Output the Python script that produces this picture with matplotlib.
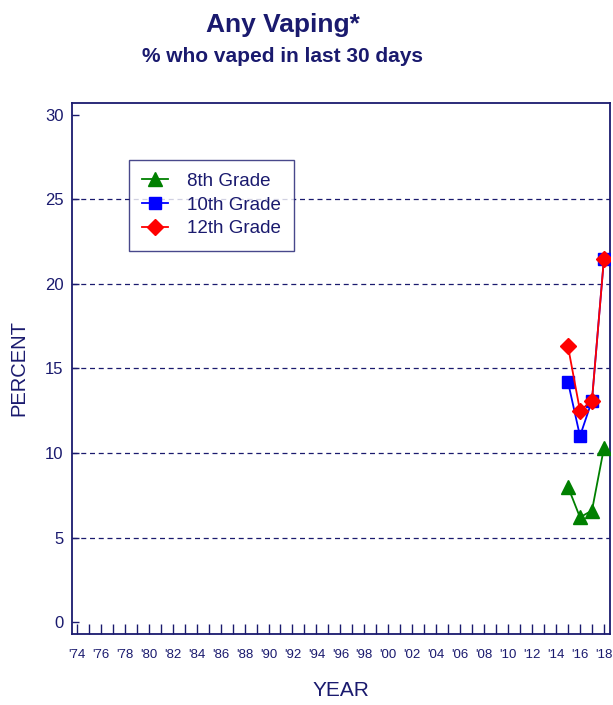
import matplotlib
matplotlib.use("Agg")
import matplotlib.pyplot as plt

plt.rcParams['font.family'] = ['Liberation Sans', 'DejaVu Sans']

navy = '#1a1a6e'

years = [2015, 2016, 2017, 2018]
grade8 = [8.0, 6.2, 6.6, 10.3]
grade10 = [14.2, 11.0, 13.1, 21.5]
grade12 = [16.3, 12.5, 13.1, 21.5]

tick_years = list(range(1974, 2019, 2))
tick_labels = ["'%02d" % (y % 100) for y in tick_years]

fig = plt.figure(figsize=(6.13, 7.05), dpi=100)
ax = fig.add_axes([0.1175, 0.1007, 0.8775, 0.7533])

for y in [5, 10, 15, 20, 25]:
    ax.axhline(y, color=navy, lw=0.9, ls=(0, (4, 3)), zorder=1)

ax.plot(years, grade8, color='#008000', lw=1.3, marker='^', ms=10, label='8th Grade', zorder=3)
ax.plot(years, grade10, color='#0000ff', lw=1.3, marker='s', ms=9, label='10th Grade', zorder=4)
ax.plot(years, grade12, color='#ff0000', lw=1.3, marker='D', ms=8, label='12th Grade', zorder=5)

ax.set_xlim(1973.6, 2018.5)
ax.set_ylim(-0.7, 30.7)
ax.set_yticks([0, 5, 10, 15, 20, 25, 30])
ax.set_xticks(tick_years)
ax.set_xticklabels(tick_labels)
ax.set_xticks(range(1974, 2019), minor=True)

ax.tick_params(axis='x', which='both', direction='in', length=7, width=1, color=navy,
               labelsize=9.5, labelcolor=navy, pad=11)
ax.tick_params(axis='y', direction='in', length=5, width=1, color=navy,
               labelsize=12, labelcolor=navy, pad=6)
for s in ax.spines.values():
    s.set_color(navy)
    s.set_linewidth(1.3)

ax.set_ylabel('PERCENT', fontsize=14.5, color=navy, labelpad=12)
ax.set_xlabel('YEAR', fontsize=15, color=navy, labelpad=14)

leg = ax.legend(loc='upper left', bbox_to_anchor=(0.106, 0.893), fontsize=13.5,
                frameon=True, fancybox=False, handlelength=1.4, handletextpad=1.0,
                borderpad=0.7, labelspacing=0.35, borderaxespad=0)
leg.get_frame().set_edgecolor(navy)
leg.get_frame().set_linewidth(1.0)
for t in leg.get_texts():
    t.set_color(navy)

fig.text(283 / 613, 1 - 25 / 705, 'Any Vaping*', ha='center', va='center',
         fontsize=19, fontweight='bold', color=navy)
fig.text(283 / 613, 1 - 57 / 705, '% who vaped in last 30 days', ha='center', va='center',
         fontsize=15, fontweight='bold', color=navy)

fig.savefig('out.png', dpi=100)
